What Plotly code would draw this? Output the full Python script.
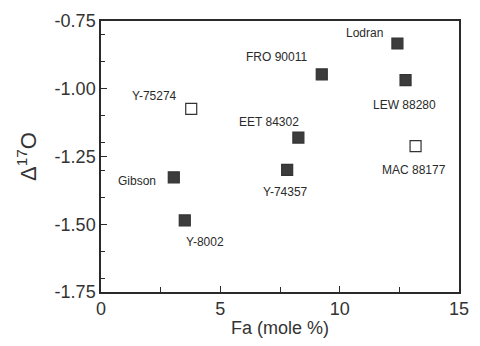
import plotly.graph_objects as go

# Meteorite samples: fayalite content vs oxygen isotope anomaly
names = ["Lodran", "FRO 90011", "LEW 88280", "Y-75274", "EET 84302",
         "MAC 88177", "Y-74357", "Gibson", "Y-8002"]
fa = [12.42, 9.25, 12.76, 3.78, 8.27, 13.18, 7.8, 3.05, 3.51]
d17o = [-0.833, -0.947, -0.968, -1.074, -1.18, -1.212, -1.299, -1.327, -1.486]
open_marker = [False, False, False, True, False, True, False, False, False]

# label offsets from each marker, in pixels (dx right, dy down)
label_dx = [-33, -45, -1, -37, -29, -2, -2, -37, 20]
label_dy = [-10, -17, 25, -13, -16, 24, 22, 4, 22]

x_ticks = [0, 5, 10, 15]
x_minor = [2.5, 7.5, 12.5]
y_ticks = [-1.75, -1.5, -1.25, -1.0, -0.75]
y_tick_text = ["-1.75", "-1.50", "-1.25", "-1.00", "-0.75"]
y_minor = [-1.7, -1.6, -1.4, -1.3, -1.2, -1.1, -0.9, -0.8]

ink = "#2a2a2a"
font_family = "Arial, Liberation Sans, Helvetica, sans-serif"

fig = go.Figure()
for filled in (True, False):
    xs = [x for x, o in zip(fa, open_marker) if o != filled]
    ys = [y for y, o in zip(d17o, open_marker) if o != filled]
    fig.add_trace(go.Scatter(
        x=xs, y=ys, mode="markers",
        marker=dict(symbol="square", size=11,
                    color="#3c3c3c" if filled else "white",
                    line=dict(color="#333333", width=1.2)),
        showlegend=False, hoverinfo="skip"))

for n, x, y, dx, dy in zip(names, fa, d17o, label_dx, label_dy):
    fig.add_annotation(x=x, y=y, text=n, showarrow=False,
                       xshift=dx, yshift=-dy,
                       font=dict(size=12, color=ink, family=font_family))

axis_common = dict(
    showline=True, linecolor=ink, linewidth=1.5, mirror=True,
    showgrid=False, zeroline=False,
    ticks="inside", ticklen=6, tickwidth=1.2, tickcolor=ink,
    tickfont=dict(size=18, color="#333333", family=font_family),
)

fig.update_xaxes(range=[0, 15], tickvals=x_ticks,
                 minor=dict(tickvals=x_minor, ticks="inside", ticklen=5,
                            tickwidth=1, tickcolor=ink),
                 title=dict(text="Fa (mole %)", standoff=3,
                            font=dict(size=18, color="#333333", family=font_family)),
                 **axis_common)
fig.update_yaxes(range=[-1.75, -0.75], tickvals=y_ticks, ticktext=y_tick_text,
                 minor=dict(tickvals=y_minor, ticks="inside", ticklen=4,
                            tickwidth=1, tickcolor=ink),
                 title=dict(text="Δ<sup>17</sup>O", standoff=12,
                            font=dict(size=22, color="#333333", family=font_family)),
                 **axis_common)

fig.update_layout(
    width=480, height=346,
    margin=dict(l=101, r=11, t=18, b=44),
    paper_bgcolor="white", plot_bgcolor="white",
)

fig.write_html("out.html")
